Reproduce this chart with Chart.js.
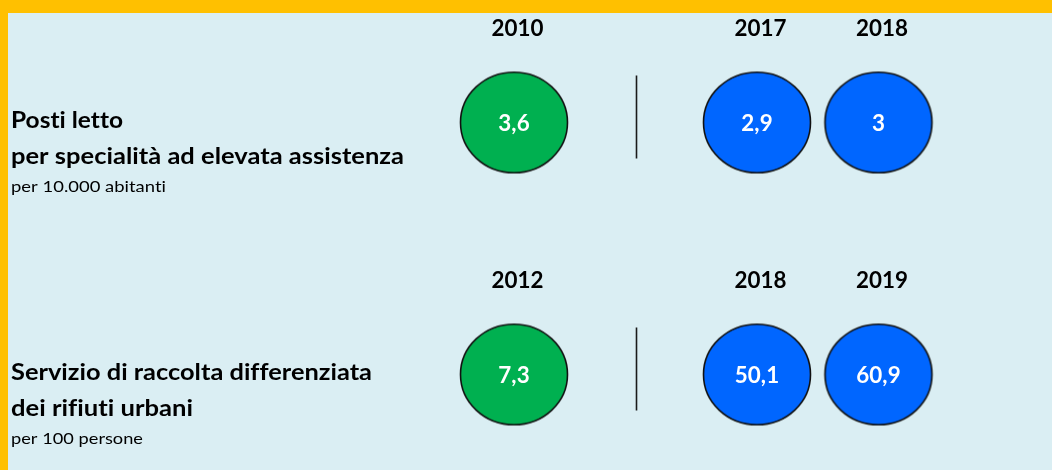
<!DOCTYPE html>
<html>
<head>
<meta charset="utf-8">
<script src="https://cdn.jsdelivr.net/npm/chart.js@4"></script>
<style>
  html, body { margin: 0; padding: 0; background: #DAEEF3; overflow: hidden; }
  #wrap { position: absolute; left: 0; top: 0; width: 1052px; height: 470px; }
  canvas { font-variant-ligatures: none; }
</style>
</head>
<body>
<div id="wrap"><canvas id="c" width="1052" height="470"></canvas></div>
<script>
// ---- data ----
const indicatorTitles = [
  ["Posti letto", "per specialità ad elevata assistenza"],
  ["Servizio di raccolta differenziata", "dei rifiuti urbani"]
];
const indicatorUnits = ["per 10.000 abitanti", "per 100 persone"];
const yearsPosti = ["2010", "2017", "2018"];
const yearsRaccolta = ["2012", "2018", "2019"];
const valuesPosti = [3.6, 2.9, 3];
const valuesRaccolta = [7.3, 50.1, 60.9];

const yearLabels = [yearsPosti, yearsRaccolta];
const valueRows = [valuesPosti, valuesRaccolta];
// column index for each of the three values (column 1 holds the divider)
const columns = [0, 2, 3];
const pointColors = ["#00B050", "#0066FF", "#0066FF"];

// target text widths measured on the reference (Calibri is narrower than the fallback)
const titleWidths = [[112, 393], [361, 182]];
const unitWidths = [155, 132];

const FONT = "Lato, 'Open Sans', sans-serif";

function ellipseCanvas(fill) {
  const w = 112, h = 106;
  const cv = document.createElement('canvas');
  cv.width = w; cv.height = h;
  const g = cv.getContext('2d');
  g.beginPath();
  g.ellipse(w / 2, h / 2, 53.5, 50.3, 0, 0, Math.PI * 2);
  g.fillStyle = fill;
  g.fill();
  g.lineWidth = 1.6;
  g.strokeStyle = '#111';
  g.stroke();
  return cv;
}
const styleCache = {};
function styleFor(color) {
  if (!styleCache[color]) styleCache[color] = ellipseCanvas(color);
  return styleCache[color];
}

const points = [];
const pColors = [];
valueRows.forEach((row, r) => {
  row.forEach((v, i) => {
    points.push({ x: columns[i], y: r, v: v });
    pColors.push(pointColors[i]);
  });
});

function setupCtx(ctx) {
  try { ctx.letterSpacing = '0.01px'; } catch (e) {}
}

// draw text at a given size, condensed horizontally to a target width
function drawFit(ctx, text, x, y, font, targetW, align) {
  ctx.font = font;
  const w = ctx.measureText(text).width;
  const sx = targetW ? targetW / w : 1;
  ctx.save();
  ctx.translate(x, y);
  ctx.scale(sx, 1);
  ctx.textAlign = align;
  ctx.fillText(text, 0, 0);
  ctx.restore();
}

const decorPlugin = {
  id: 'decor',
  beforeDraw(chart) {
    const ctx = chart.ctx;
    ctx.save();
    ctx.fillStyle = '#DAEEF3';
    ctx.fillRect(0, 0, chart.width, chart.height);
    ctx.fillStyle = '#FFC000';
    ctx.fillRect(0, 0, chart.width, 13);
    ctx.fillRect(0, 0, 8, chart.height);
    ctx.restore();
  },
  afterDatasetsDraw(chart) {
    const ctx = chart.ctx;
    const xs = chart.scales.x, ys = chart.scales.y;
    ctx.save();
    setupCtx(ctx);
    const titleFont = 'bold 22px ' + FONT;
    const unitFont = 'normal 16px ' + FONT;
    const numFont = 'bold 23px ' + FONT;
    ctx.font = numFont;
    const numScale = 52 / ctx.measureText('2010').width;
    valueRows.forEach((row, r) => {
      const cy = ys.getPixelForValue(r);
      // left titles
      ctx.fillStyle = '#000';
      ctx.textBaseline = 'alphabetic';
      drawFit(ctx, indicatorTitles[r][0], 11, cy + 5, titleFont, titleWidths[r][0], 'left');
      drawFit(ctx, indicatorTitles[r][1], 11, cy + 41.5, titleFont, titleWidths[r][1], 'left');
      drawFit(ctx, indicatorUnits[r], 11, cy + 69, unitFont, unitWidths[r], 'left');
      // year labels
      ctx.textBaseline = 'middle';
      yearLabels[r].forEach((yl, i) => {
        ctx.font = numFont;
        const w = ctx.measureText(yl).width * numScale;
        drawFit(ctx, yl, xs.getPixelForValue(columns[i]) + 3.5, cy - 94, numFont, w, 'center');
      });
      // values inside circles
      ctx.fillStyle = '#fff';
      row.forEach((v, i) => {
        const t = v.toLocaleString('it-IT');
        ctx.font = numFont;
        const w = ctx.measureText(t).width * numScale;
        drawFit(ctx, t, xs.getPixelForValue(columns[i]), cy + 1, numFont, w, 'center');
      });
      // divider
      const dx = Math.round(xs.getPixelForValue(1)) + 0.5;
      ctx.strokeStyle = '#1a1a1a';
      ctx.lineWidth = 1.6;
      ctx.beginPath();
      ctx.moveTo(dx, cy - 47);
      ctx.lineTo(dx, cy + 36);
      ctx.stroke();
    });
    ctx.restore();
  }
};

new Chart(document.getElementById('c'), {
  type: 'scatter',
  data: {
    datasets: [{
      data: points,
      pointStyle: pColors.map(styleFor),
      pointRadius: 52,
      pointHoverRadius: 52,
      backgroundColor: pColors,
      borderColor: '#111'
    }]
  },
  options: {
    responsive: false,
    animation: false,
    events: [],
    layout: { padding: 0, autoPadding: false },
    plugins: { legend: { display: false }, tooltip: { enabled: false } },
    scales: {
      x: { type: 'linear', display: false, min: -514 / 121.5, max: (1052 - 514) / 121.5 },
      y: { type: 'linear', display: false, reverse: true, min: -122.5 / 252, max: (470 - 122.5) / 252 }
    }
  },
  plugins: [decorPlugin]
});
</script>
</body>
</html>
